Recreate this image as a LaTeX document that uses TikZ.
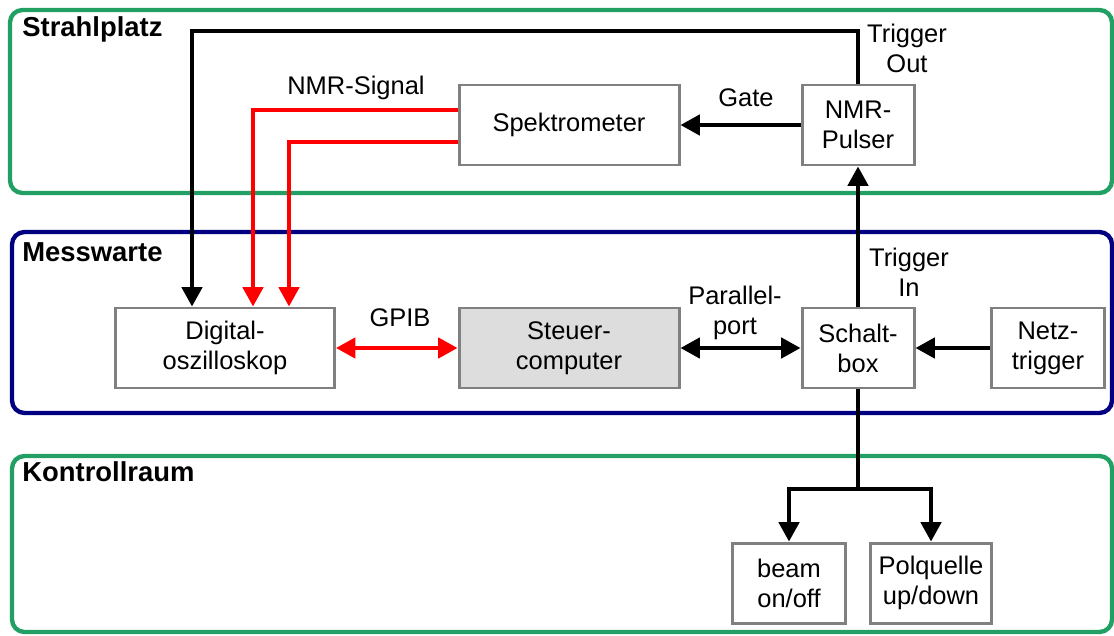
\documentclass[tikz,border=0pt]{standalone}
\usepackage{fontspec}
\setmainfont{Liberation Sans}
\usetikzlibrary{arrows.meta,calc}
\definecolor{areagreen}{RGB}{34,160,100}
\definecolor{areablue}{RGB}{0,0,128}
\definecolor{boxgray}{RGB}{128,128,128}
\definecolor{pcgray}{RGB}{221,221,221}
\tikzset{
  area/.style={line width=2.5pt,rounded corners=0.25cm},
  areatitle/.style={anchor=base west,inner sep=0pt,font=\fontsize{15.6}{18}\selectfont\bfseries},
  unit/.style={draw=boxgray,line width=1.7pt,fill=white,align=center,inner sep=0pt,
    minimum height=80*0.02cm},
  wire/.style={line width=2.2pt,-{Triangle[length=11pt,width=11.5pt]}},
  bothwire/.style={line width=2.2pt,{Triangle[length=11pt,width=11.5pt]}-{Triangle[length=11pt,width=11.5pt]}},
  plain/.style={line width=2.2pt},
  txt/.style={align=center,inner sep=0pt}
}
\begin{document}
\begin{tikzpicture}[x=0.02cm,y=-0.02cm,font=\fontsize{14.5}{17}\selectfont]
\useasboundingbox (0,0) rectangle (1114,635);

% Bereiche
\draw[area,draw=areagreen] (10,10) rectangle (1112,193);
\draw[area,draw=areablue] (12,232) rectangle (1112,413);
\draw[area,draw=areagreen] (12,456) rectangle (1112,632);
\node[areatitle] (tstrahl) at (22,37) {Strahlplatz};
\node[areatitle] (tmess) at (22,261) {Messwarte};
\node[areatitle] (tkontroll) at (22,481) {Kontrollraum};

% Geraete
\node[unit,minimum width=220*0.02cm] (spek) at (569,125) {Spektrometer};
\node[unit,minimum width=112*0.02cm] (pulser) at (858,125) {NMR-\\Pulser};
\node[unit,minimum width=219*0.02cm] (oszi) at (225,348) {Digital-\\oszilloskop};
\node[unit,minimum width=220*0.02cm,fill=pcgray] (steuer) at (569,348) {Steuer-\\computer};
\node[unit,minimum width=112*0.02cm] (schalt) at (858,348) {Schalt-\\box};
\node[unit,minimum width=113*0.02cm] (netz) at (1048,348) {Netz-\\trigger};
\node[unit,minimum width=113*0.02cm] (beam) at (789,583) {beam\\on/off};
\node[unit,minimum width=121*0.02cm] (polq) at (931,583) {Polquelle\\up/down};

% Hilfspunkte
\coordinate (ttop) at (192,31);
\coordinate (r1) at (253,110);
\coordinate (r2) at (289,142);
\coordinate (split) at (858,489);

% Verbindungen
\draw[wire] (pulser.north) |- (ttop) -- (ttop |- oszi.north);
\draw[wire] (pulser.west) -- (spek.east);
\draw[wire,red] (spek.west |- r1) -- (r1) -- (r1 |- oszi.north);
\draw[wire,red] (spek.west |- r2) -- (r2) -- (r2 |- oszi.north);
\draw[bothwire,red] (oszi.east) -- (steuer.west);
\draw[bothwire] (steuer.east) -- (schalt.west);
\draw[wire] (netz.west) -- (schalt.east);
\draw[wire] (schalt.north) -- (pulser.south);
\draw[plain] (schalt.south) -- (split);
\draw[wire] (split) -| (beam.north);
\draw[wire] (split) -| (polq.north);

% Beschriftungen
\node[txt] (ltout) at (907,48) {Trigger\\Out};
\node[txt] (lsig) at (356,88) {NMR-Signal};
\node[txt] (lgate) at (746,98) {Gate};
\node[txt] (ltin) at (909,272) {Trigger\\In};
\node[txt] (lgpib) at (400,318) {GPIB};
\node[txt] (lport) at (735,313) {Parallel-\\port};

\end{tikzpicture}
\end{document}
